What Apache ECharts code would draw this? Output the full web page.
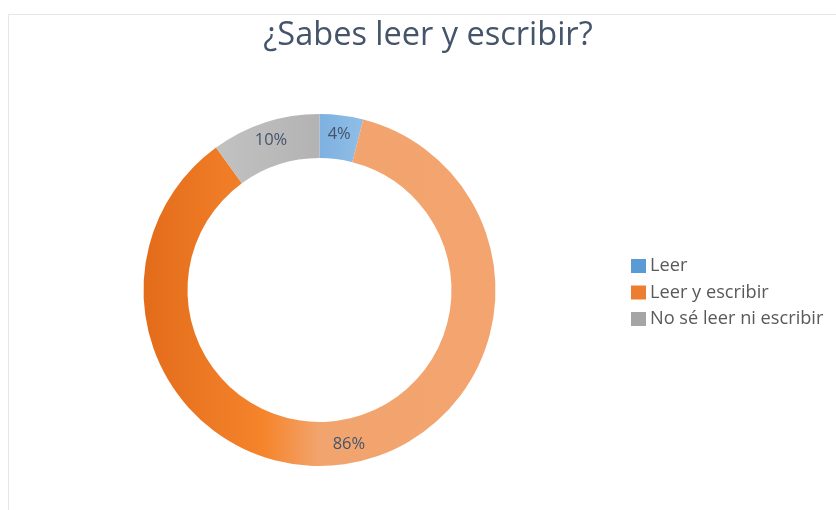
<!DOCTYPE html>
<html>
<head>
<meta charset="utf-8">
<script src="https://cdn.jsdelivr.net/npm/echarts@6/dist/echarts.min.js"></script>
<style>
  html, body { margin: 0; padding: 0; background: #fff; }
  #chart { width: 836px; height: 510px; }
</style>
</head>
<body>
<div id="chart"></div>
<script>
const titleText = '¿Sabes leer y escribir?'
const categories = ['Leer', 'Leer y escribir', 'No sé leer ni escribir']
const percents = [4, 86, 10]
const legendColors = ['#5B9BD5', '#ED7D31', '#A5A5A5']

const sliceColors = [
  new echarts.graphic.LinearGradient(319, 0, 365, 0, [
    { offset: 0, color: '#7EB1E0' },
    { offset: 1, color: '#90BEE7' }
  ], true),
  new echarts.graphic.LinearGradient(144, 0, 495, 0, [
    { offset: 0, color: '#E36C1B' },
    { offset: 0.34, color: '#F5842B' },
    { offset: 0.5, color: '#F2A46E' },
    { offset: 1, color: '#F3A46F' }
  ], true),
  new echarts.graphic.LinearGradient(215, 0, 320, 0, [
    { offset: 0, color: '#C2C2C2' },
    { offset: 1, color: '#B3B3B3' }
  ], true)
]

const chart = echarts.init(document.getElementById('chart'))
chart.setOption({
  animation: false,
  backgroundColor: '#fff',
  title: {
    text: titleText,
    left: 423,
    top: 14,
    textAlign: 'center',
    textStyle: { fontFamily: 'Open Sans', fontSize: 32.5, fontWeight: 'normal', color: '#44546A' }
  },
  legend: {
    orient: 'vertical',
    left: 626,
    top: 252,
    itemWidth: 15,
    itemHeight: 14,
    itemGap: 8.5,
    icon: 'rect',
    selectedMode: false,
    textStyle: { fontFamily: 'Open Sans', fontSize: 18.2, color: '#595959', padding: [0, 0, 0, -1] },
    data: categories.map((c, i) => ({ name: c, itemStyle: { color: legendColors[i] } }))
  },
  graphic: [{
    type: 'rect',
    shape: { x: 8.5, y: 14.5, width: 900, height: 600 },
    style: { fill: 'none', stroke: '#E3E6EB', lineWidth: 1 },
    silent: true
  }],
  series: [{
    type: 'pie',
    center: [319.5, 290],
    radius: [132, 176],
    startAngle: 90,
    clockwise: true,
    avoidLabelOverlap: false,
    emphasis: { disabled: true },
    label: {
      show: true,
      position: 'inside',
      formatter: '{d}%',
      fontFamily: 'Open Sans',
      fontSize: 16.5,
      color: '#44546A'
    },
    labelLine: { show: false },
    data: categories.map((c, i) => ({
      name: c,
      value: percents[i],
      itemStyle: { color: sliceColors[i] }
    }))
  }]
})
</script>
</body>
</html>
